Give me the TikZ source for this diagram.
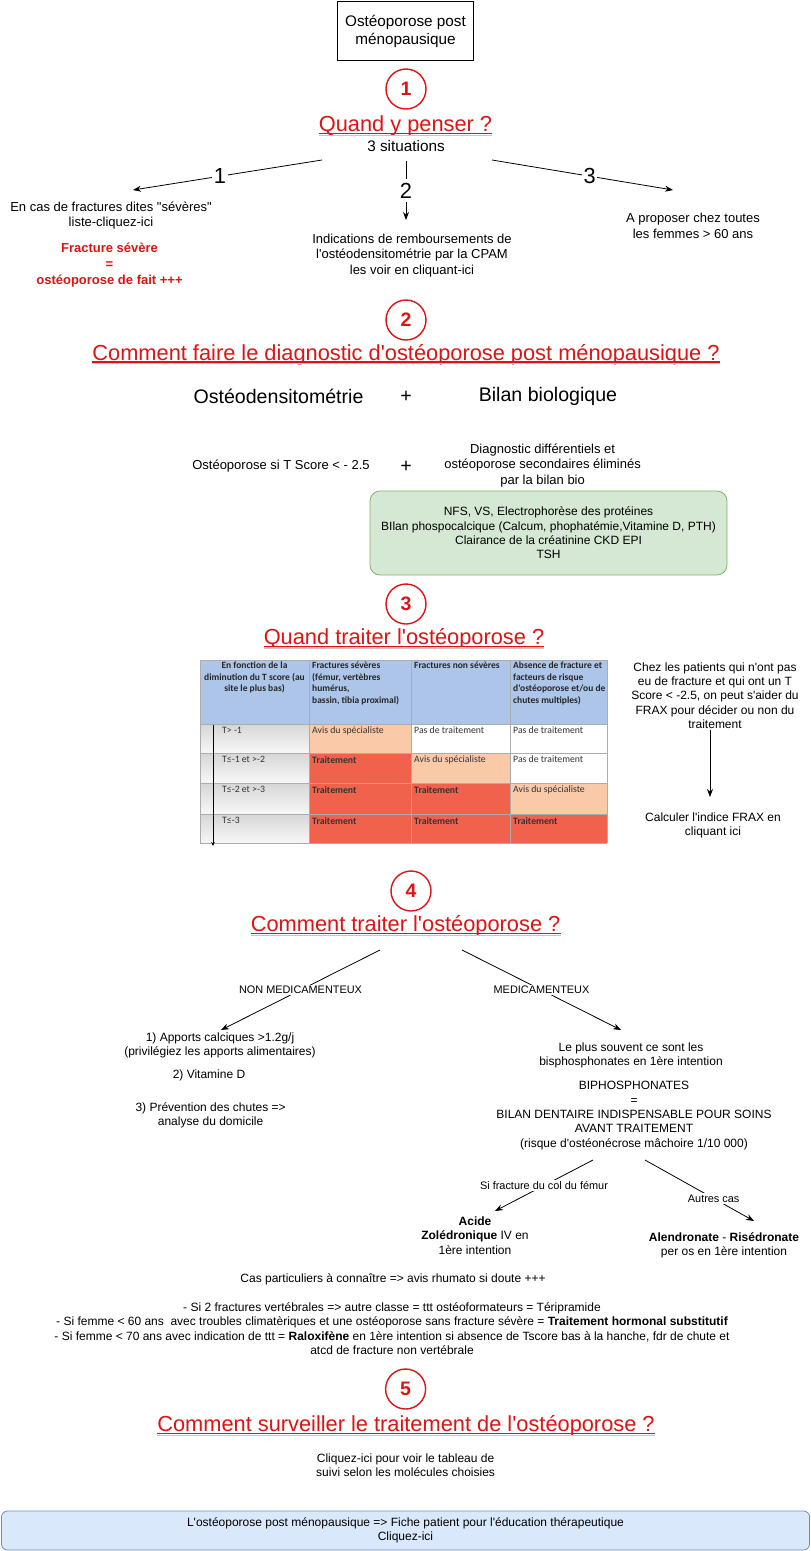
\documentclass[tikz,border=0pt]{standalone}
\usepackage{fontspec}
\setmainfont{Liberation Sans}[Ligatures=TeXOff]
\newfontfamily\tabfont{Carlito}[Ligatures=TeXOff]
\usetikzlibrary{calc,arrows.meta,positioning}

\definecolor{dred}{RGB}{221,20,20}
\definecolor{grfill}{HTML}{D5E8D4}
\definecolor{grline}{HTML}{82B366}
\definecolor{blfill}{HTML}{DAE8FC}
\definecolor{blline}{HTML}{6C8EBF}
\definecolor{hdblue}{RGB}{172,197,232}
\definecolor{peach}{RGB}{249,201,168}
\definecolor{tred}{RGB}{240,98,76}

\begin{document}
\begin{tikzpicture}[x=1pt, y=-1pt,
    base/.style={align=center, inner sep=1pt},
    t13/.style={base, font=\fontsize{13}{15.5}\selectfont},
    t12/.style={base, font=\fontsize{12}{14.3}\selectfont},
    t15/.style={base, font=\fontsize{15.3}{18}\selectfont},
    t19/.style={base, font=\fontsize{19.6}{23}\selectfont},
    lbl/.style={base, font=\fontsize{10.9}{13}\selectfont, fill=white, inner sep=1.5pt},
    lnum/.style={base, font=\fontsize{21.8}{26}\selectfont, fill=white, inner xsep=1.5pt, inner ysep=4pt},
    ttl/.style={anchor=base, font=\fontsize{21.8}{26}\selectfont, text=dred, inner xsep=0pt, inner ysep=1pt},
    num/.style={circle, draw=dred, line width=1.4pt, fill=white, minimum size=40pt, inner sep=0pt,
        text=dred, font=\bfseries\fontsize{19.5}{20}\selectfont},
    arr/.style={-{Stealth[length=8pt, width=6pt]}, line width=0.8pt},
    uline/.style={dred, line width=1.3pt},
    cell/.style={anchor=north west, inner sep=0pt, align=left, text=black!80,
        font=\tabfont\fontsize{9.75}{11.5}\selectfont},
    hcell/.style={cell, text=black!85, font=\tabfont\bfseries\fontsize{9.5}{11.5}\selectfont},
    tabline/.style={draw=gray!65, line width=0.6pt},
]

    % page
    \fill[white] (0,0) rectangle (811,1551);
    \useasboundingbox (0,0) rectangle (811,1551);

    % header box
    \node[t15, draw, line width=0.9pt, minimum width=136pt, minimum height=59pt] (top) at (405.5,31)
        {Ostéoporose post\\ménopausique};

    % 1 - quand y penser
    \node[num] (c1) at (406,89) {1};
    \node[ttl] (q1) at (405.5,131.7) {Quand y penser ?};
    \node[t15] (sit) at (406,146) {3 situations};

    \coordinate (a1s) at (322,160);
    \coordinate (a1e) at (133,190);
    \coordinate (a2s) at (406,161);
    \coordinate (a2e) at (406,220);
    \coordinate (a3s) at (492,160);
    \coordinate (a3e) at (673,190);
    \draw[arr] (a1s) -- node[lnum, pos=0.54] (n1) {1} (a1e);
    \draw[arr] (a2s) -- node[lnum] (n2) {2} (a2e);
    \draw[arr] (a3s) -- node[lnum, pos=0.54] (n3) {3} (a3e);

    \node[t13] (sev) at (111,215.5) {En cas de fractures dites "sévères"\\liste-cliquez-ici};
    \node[t13, text=dred, font=\bfseries\fontsize{13}{16}\selectfont] (fsev) at (109.5,265)
        {Fracture sévère\\=\\ostéoporose de fait +++};
    \node[t13] (rem) at (412,255.5)
        {Indications de remboursements de\\l'ostéodensitométrie par la CPAM\\les voir en cliquant-ici};
    \node[t13] (all) at (693,226) {A proposer chez toutes\\les femmes > 60 ans};

    % 2 - diagnostic
    \node[num] (c2) at (406,320) {2};
    \node[ttl] (q2) at (406,360) {Comment faire le diagnostic d'ostéoporose post ménopausique ?};
    \node[t19] (ode) at (278.5,396) {Ostéodensitométrie};
    \node[t19] (p1) at (406,397) {+};
    \node[t19] (bio) at (548,396) {Bilan biologique};
    \node[t13] (ts) at (281,466) {Ostéoporose si T Score < - 2.5};
    \node[t19] (p2) at (406,467) {+};
    \node[t13] (dif) at (542.6,465.5)
        {Diagnostic différentiels et\\ostéoporose secondaires éliminés\\par la bilan bio};
    \node[t12, draw=grline, fill=grfill, line width=0.8pt, rounded corners=10pt,
        minimum width=357pt, minimum height=84pt] (bil) at (548.5,533)
        {NFS, VS, Electrophorèse des protéines\\BIlan phospocalcique (Calcum, phophatémie,Vitamine D, PTH)\\Clairance de la créatinine CKD EPI\\TSH};

    % 3 - quand traiter
    \node[num] (c3) at (406,604) {3};
    \node[ttl] (q3) at (404,644.5) {Quand traiter l'ostéoporose ?};

    % table fills
    \fill[hdblue] (200,660) rectangle (607,724);
    \foreach \ya/\yb in {724/753, 753/783, 783/814, 814/843}
        \shade[top color=gray!32, bottom color=gray!6] (200,\ya) rectangle (309,\yb);
    \fill[peach] (309,724) rectangle (411,753);
    \fill[peach] (411,753) rectangle (510,783);
    \fill[peach] (510,783) rectangle (607,814);
    \fill[tred] (309,753) rectangle (411,843);
    \fill[tred] (411,783) rectangle (510,843);
    \fill[tred] (510,814) rectangle (607,843);

    % table lines
    \foreach \xx in {200,309,411,510,607}
        \draw[tabline] (\xx,660) -- (\xx,843);
    \foreach \yy in {660,724,753,783,814,843}
        \draw[tabline] (200,\yy) -- (607,\yy);
    \draw[-{Stealth[length=4pt, width=3.5pt]}, line width=1pt] (213,725) -- (213,846);

    % table texts
    \node[hcell, anchor=north, align=center] (h1) at (254.5,662)
        {En fonction de la\\diminution du T score (au\\site le plus bas)};
    \node[hcell] (h2) at (312,662) {Fractures sévères\\(fémur, vertèbres\\humérus,\\bassin, tibia proximal)};
    \node[hcell] (h3) at (414,662) {Fractures non sévères};
    \node[hcell] (h4) at (513,662) {Absence de fracture et\\facteurs de risque\\d'ostéoporose et/ou de\\chutes multiples)};

    \foreach \yy/\t [count=\i] in {724/T> -1, 753/T≤-1 et >-2, 783/T≤-2 et >-3, 814/T≤-3}
        \node[cell] (ts\i) at (222,\yy+3) {\t};

    \node[cell] (r1b) at (312,727) {Avis du spécialiste};
    \node[cell] (r1c) at (414,727) {Pas de traitement};
    \node[cell] (r1d) at (513,727) {Pas de traitement};
    \node[cell] (r2b) at (312,756) {\textbf{Traitement}};
    \node[cell] (r2c) at (414,756) {Avis du spécialiste};
    \node[cell] (r2d) at (513,756) {Pas de traitement};
    \node[cell] (r3b) at (312,786) {\textbf{Traitement}};
    \node[cell] (r3c) at (414,786) {\textbf{Traitement}};
    \node[cell] (r3d) at (513,786) {Avis du spécialiste};
    \node[cell] (r4b) at (312,817) {\textbf{Traitement}};
    \node[cell] (r4c) at (414,817) {\textbf{Traitement}};
    \node[cell] (r4d) at (513,817) {\textbf{Traitement}};

    % frax
    \node[t12] (frx) at (715,695.5)
        {Chez les patients qui n'ont pas\\eu de fracture et qui ont un T\\Score < -2.5, on peut s'aider du\\FRAX pour décider ou non du\\traitement};
    \node[t12] (calc) at (713,825.5) {Calculer l'indice FRAX en\\cliquant ici};
    \coordinate (fe) at (710,797);
    \draw[arr] (frx.south -| fe) -- (fe);

    % 4 - comment traiter
    \node[num] (c4) at (411,891) {4};
    \node[ttl] (q4) at (405.6,931.7) {Comment traiter l'ostéoporose ?};

    \coordinate (l4s) at (380,950);
    \coordinate (l4e) at (221,1030);
    \coordinate (r4s) at (462,950);
    \coordinate (r4e) at (621,1030);
    \draw[arr] (l4s) -- node[lbl] (nmed) {NON MEDICAMENTEUX} (l4e);
    \draw[arr] (r4s) -- node[lbl] (med) {MEDICAMENTEUX} (r4e);

    \node[t12] (calq) at (220,1045.5) {1) Apports calciques >1.2g/j\\(privilégiez les apports alimentaires)};
    \node[t12] (vitd) at (209,1075) {2) Vitamine D};
    \node[t12] (chut) at (210.6,1115.5) {3) Prévention des chutes =>\\analyse du domicile};

    \node[t12] (bis) at (631,1055.5) {Le plus souvent ce sont les\\bisphosphonates en 1ère intention};
    \node[t12] (dent) at (634,1115.5)
        {BIPHOSPHONATES\\=\\BILAN DENTAIRE INDISPENSABLE POUR SOINS\\AVANT TRAITEMENT\\(risque d'ostéonécrose mâchoire 1/10 000)};

    \coordinate (fs) at (593,1160);
    \coordinate (fz) at (495,1211);
    \coordinate (as) at (645,1160);
    \coordinate (az) at (754,1221);
    \draw[arr] (fs) -- node[lbl] (col) {Si fracture du col du fémur} (fz);
    \draw[arr] (as) -- node[lbl, pos=0.63] (autr) {Autres cas} (az);

    \node[t12] (zol) at (475,1235.5) {\textbf{Acide}\\\textbf{Zolédronique} IV en\\1ère intention};
    \node[t12] (ale) at (724,1245.5) {\textbf{Alendronate} - \textbf{Risédronate}\\per os en 1ère intention};

    \node[t12] (cas) at (393,1279) {Cas particuliers à connaître => avis rhumato si doute +++};
    \node[t12] (lst) at (392,1328.5)
        {- Si 2 fractures vertébrales => autre classe = ttt ostéoformateurs = Téripramide\\
         - Si femme < 60 ans\ \ avec troubles climatèriques et une ostéoporose sans fracture sévère = \textbf{Traitement hormonal substitutif}\\
         - Si femme < 70 ans avec indication de ttt = \textbf{Raloxifène} en 1ère intention si absence de Tscore bas à la hanche, fdr de chute et\\
         atcd de fracture non vertébrale};

    % 5 - surveillance
    \node[num] (c5) at (405.6,1389) {5};
    \node[ttl] (q5) at (406,1431.7) {Comment surveiller le traitement de l'ostéoporose ?};
    \node[t12] (suiv) at (405.6,1465.5) {Cliquez-ici pour voir le tableau de\\suivi selon les molécules choisies};

    \node[t12, draw=blline, fill=blfill, line width=0.8pt, rounded corners=6pt,
        minimum width=808pt, minimum height=39pt] (fiche) at (405.5,1530.5)
        {L'ostéoporose post ménopausique => Fiche patient pour l'éducation thérapeutique\\Cliquez-ici};

    % title underlines
    \foreach \q in {q1,q2,q3,q4,q5} {
        \draw[gray!45, line width=1.2pt] ([yshift=-3.4pt]\q.base west) -- ([yshift=-3.4pt]\q.base east);
        \draw[uline] ([yshift=-2pt]\q.base west) -- ([yshift=-2pt]\q.base east);
    }

\end{tikzpicture}
\end{document}
